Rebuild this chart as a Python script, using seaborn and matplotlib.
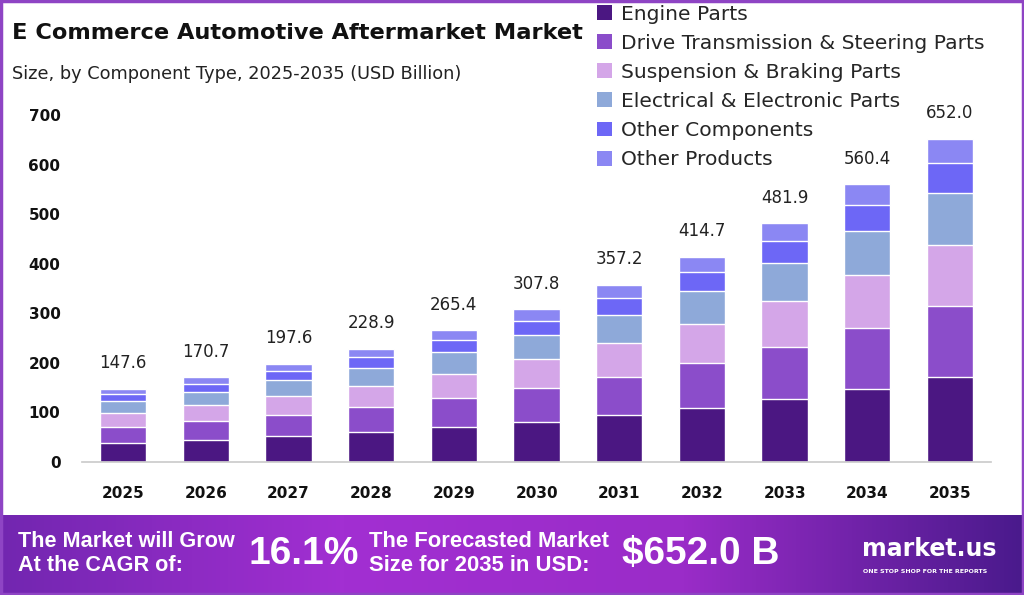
import matplotlib.pyplot as plt
import numpy as np
import pandas as pd
import seaborn as sns
from matplotlib.colors import LinearSegmentedColormap
from matplotlib.patches import Patch, Rectangle

# Data (USD Billion)
years = ['2025', '2026', '2027', '2028', '2029', '2030', '2031', '2032', '2033', '2034', '2035']
totals = [147.6, 170.7, 197.6, 228.9, 265.4, 307.8, 357.2, 414.7, 481.9, 560.4, 652.0]
engine_parts = [38.8, 44.9, 52.0, 60.2, 69.8, 81.0, 93.9, 109.1, 126.7, 147.4, 171.5]
drive_steering = [32.5, 37.6, 43.5, 50.4, 58.4, 67.7, 78.6, 91.2, 106.0, 123.3, 143.4]
suspension_braking = [28.0, 32.4, 37.5, 43.5, 50.4, 58.5, 67.9, 78.8, 91.6, 106.5, 123.9]
electrical = [23.6, 27.3, 31.6, 36.6, 42.5, 49.2, 57.2, 66.4, 77.1, 89.7, 104.3]
other_components = [13.6, 15.7, 18.2, 21.1, 24.4, 28.3, 32.9, 38.2, 44.3, 51.6, 60.0]
other_products = [11.1, 12.8, 14.8, 17.1, 19.9, 23.1, 26.7, 31.0, 36.2, 41.9, 48.9]

segments = ['Engine Parts', 'Drive Transmission & Steering Parts', 'Suspension & Braking Parts',
            'Electrical & Electronic Parts', 'Other Components', 'Other Products']
colors = ['#4b1782', '#8b4dca', '#d4a6e8', '#8ea9d9', '#6d67f6', '#8b87f3']

df = pd.DataFrame({'year': years})
for name, vals in zip(segments, [engine_parts, drive_steering, suspension_braking,
                                 electrical, other_components, other_products]):
    df[name] = vals

sns.set_theme(style='white')
plt.rcParams['font.family'] = ['DejaVu Sans']

fig = plt.figure(figsize=(10.24, 5.95), dpi=100)
ax = fig.add_axes([0.080, 0.2235, 0.888, 0.608])

# stacked bars: draw cumulative sums from the top segment down
cum = df[segments].cumsum(axis=1)
for i in range(len(segments) - 1, -1, -1):
    sns.barplot(x=df['year'], y=cum[segments[i]], color=colors[i], width=0.56,
                saturation=1, ax=ax, order=years)

for i, t in enumerate(totals):
    ax.annotate(f'{t:.1f}', (i, t), xytext=(0, 12), textcoords='offset points',
                ha='center', va='bottom', fontsize=12, color='#222222')

ax.set_ylim(0, 730)
ax.set_xlim(-0.5, 10.5)
ax.set_yticks([0, 100, 200, 300, 400, 500, 600, 700])
ax.set_xlabel('')
ax.set_ylabel('')
for s in ['top', 'right', 'left']:
    ax.spines[s].set_visible(False)
ax.spines['bottom'].set_color('#cccccc')
ax.tick_params(axis='y', length=0, pad=15.5, labelsize=11)
ax.tick_params(axis='x', length=0, pad=17, labelsize=11)
for lab in ax.get_xticklabels() + ax.get_yticklabels():
    lab.set_fontweight('bold')
    lab.set_color('#111111')

handles = [Patch(facecolor=c, edgecolor='none') for c in colors]
fig.legend(handles, segments, loc='upper left', bbox_to_anchor=(0.575, 1.006),
           frameon=False, fontsize=14.6, handlelength=0.75, handleheight=0.75,
           handletextpad=0.45, labelspacing=0.5, borderaxespad=0)

fig.text(0.012, 0.945, 'E Commerce Automotive Aftermarket Market', fontsize=16.2,
         fontweight='bold', color='#111111', va='center')
fig.text(0.012, 0.875, 'Size, by Component Type, 2025-2035 (USD Billion)', fontsize=12.8,
         color='#222222', va='center')

# bottom banner with gradient
bax = fig.add_axes([0, 0, 1, 0.134])
cmap = LinearSegmentedColormap.from_list('banner', ['#7226b0', '#a22fd2', '#9a2cc8', '#4a1a8c'])
grad = np.linspace(0, 1, 256).reshape(1, -1)
bax.imshow(grad, aspect='auto', cmap=cmap, extent=[0, 1, 0, 1])
bax.set_xlim(0, 1)
bax.set_ylim(0, 1)
bax.axis('off')

bfont = ['Liberation Sans', 'DejaVu Sans']
bax.text(0.018, 0.52, 'The Market will Grow\nAt the CAGR of:', color='white', fontsize=15.6,
         fontweight='bold', family=bfont, va='center', ha='left', linespacing=1.15)
bax.text(0.243, 0.52, '16.1%', color='white', fontsize=28, fontweight='bold',
         family=bfont, va='center', ha='left')
bax.text(0.360, 0.52, 'The Forecasted Market\nSize for 2035 in USD:', color='white', fontsize=15.8,
         fontweight='bold', family=bfont, va='center', ha='left', linespacing=1.15)
bax.text(0.607, 0.52, '$652.0 B', color='white', fontsize=28, fontweight='bold',
         family=bfont, va='center', ha='left')
bax.text(0.842, 0.58, 'market.us', color='white', fontsize=17, fontweight='bold',
         va='center', ha='left')
bax.text(0.843, 0.30, 'ONE STOP SHOP FOR THE REPORTS', color='white', fontsize=4.5,
         fontweight='bold', va='center', ha='left')

# outer border
fig.patches.append(Rectangle((0.001, 0.001), 0.998, 0.997, transform=fig.transFigure,
                             fill=False, edgecolor='#8e44c4', linewidth=2.5))

fig.savefig('out.png', dpi=100)
